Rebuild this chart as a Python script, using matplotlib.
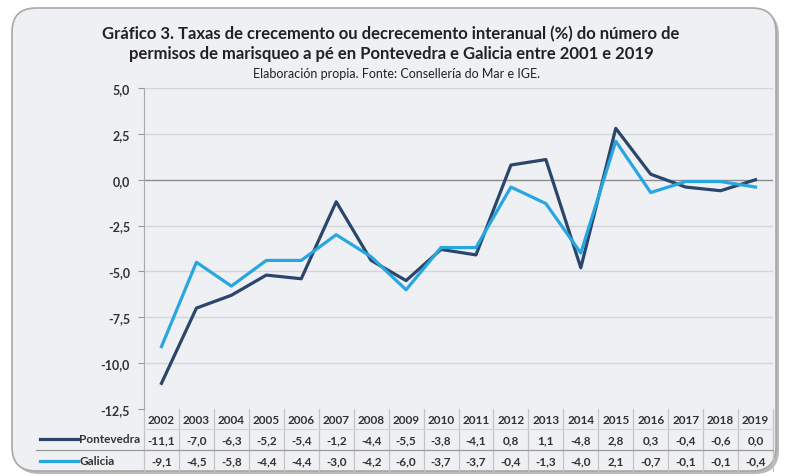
import matplotlib.pyplot as plt
from matplotlib.patches import FancyBboxPatch
import numpy as np

years = ["2002", "2003", "2004", "2005", "2006", "2007", "2008", "2009", "2010",
         "2011", "2012", "2013", "2014", "2015", "2016", "2017", "2018", "2019"]
pontevedra = [-11.1, -7.0, -6.3, -5.2, -5.4, -1.2, -4.4, -5.5, -3.8,
              -4.1, 0.8, 1.1, -4.8, 2.8, 0.3, -0.4, -0.6, 0.0]
galicia = [-9.1, -4.5, -5.8, -4.4, -4.4, -3.0, -4.2, -6.0, -3.7,
           -3.7, -0.4, -1.3, -4.0, 2.1, -0.7, -0.1, -0.1, -0.4]
yticks = [5.0, 2.5, 0.0, -2.5, -5.0, -7.5, -10.0, -12.5]

c_pont = "#2b466b"
c_gal = "#27a6df"
bg = "#eef0f4"
txt = "#333333"

plt.rcParams['font.family'] = ['Lato', 'DejaVu Sans']

W, H = 789, 477
fig = plt.figure(figsize=(W / 100, H / 100), dpi=100)
fig.patch.set_facecolor("white")

# background axes in pixel units for the rounded frame
bgax = fig.add_axes([0, 0, 1, 1], zorder=-1)
bgax.set_xlim(0, W)
bgax.set_ylim(H, 0)
bgax.axis("off")
bgax.add_patch(FancyBboxPatch((15, 12), 764, 463, boxstyle="round,pad=0,rounding_size=24",
                              facecolor="#9c9c9c", edgecolor="none", alpha=0.7))
bgax.add_patch(FancyBboxPatch((12, 9), 764, 463, boxstyle="round,pad=0,rounding_size=24",
                              facecolor=bg, edgecolor="#a8a8a8", linewidth=1.2))

left, right, top, bottom = 144, 773, 89, 410
ax = fig.add_axes([left / W, 1 - bottom / H, (right - left) / W, (bottom - top) / H])
ax.set_facecolor("none")

x = np.arange(len(years))
ax.plot(x, pontevedra, color=c_pont, lw=2.3, zorder=3)
ax.plot(x, galicia, color=c_gal, lw=2.3, zorder=3)

ax.set_xlim(-0.5, len(years) - 0.5)
ax.set_ylim(-12.5, 5.0)
ax.set_yticks(yticks)
ax.set_yticklabels([f"{v:.1f}".replace(".", ",") for v in yticks],
                   fontsize=9, fontweight="bold", color=txt)
ax.tick_params(axis="y", length=4, color="#999999", pad=6)
ax.set_xticks([])
for v in yticks:
    if v == 0:
        ax.axhline(v, color="#8c8c8c", lw=1.0, zorder=2)
    elif v != -12.5:
        ax.axhline(v, color="#d4d5d8", lw=1.0, zorder=1)
for s in ["top", "right", "bottom"]:
    ax.spines[s].set_visible(False)
ax.spines["left"].set_color("#aaaaaa")

# data table under the plot
tr = ax.get_xaxis_transform()
def ay(py):
    return (bottom - py) / (bottom - top)

for i, yr in enumerate(years):
    ax.text(i, ay(421), yr, transform=tr, ha="center", va="center",
            fontsize=8.5, fontweight="bold", color=txt, clip_on=False)
    ax.text(i, ay(441), f"{pontevedra[i]:.1f}".replace(".", ","), transform=tr,
            ha="center", va="center", fontsize=8.5, fontweight="bold", color=txt, clip_on=False)
    ax.text(i, ay(462), f"{galicia[i]:.1f}".replace(".", ","), transform=tr,
            ha="center", va="center", fontsize=8.5, fontweight="bold", color=txt, clip_on=False)

for i in range(len(years) + 1):
    ax.plot([i - 0.5, i - 0.5], [ay(410), ay(472)], transform=tr, color="#c4c4c4",
            lw=0.9, clip_on=False)
ax.plot([-0.5, len(years) - 0.5], [ay(430), ay(430)], transform=tr,
        color="#d4d4d4", lw=0.8, clip_on=False)

# row labels with legend keys
fig.add_artist(plt.Line2D([36 / W, right / W], [1 - 451 / H] * 2, color="#9a9a9a", lw=0.9))
fig.add_artist(plt.Line2D([40 / W, 78 / W], [1 - 440 / H] * 2, color=c_pont, lw=2.3))
fig.add_artist(plt.Line2D([40 / W, 78 / W], [1 - 462 / H] * 2, color=c_gal, lw=2.3))
fig.text(79 / W, 1 - 440 / H, "Pontevedra", ha="left", va="center", fontsize=8.5,
         fontweight="bold", color=txt)
fig.text(79 / W, 1 - 462 / H, "Galicia", ha="left", va="center", fontsize=8.5,
         fontweight="bold", color=txt)

fig.text(391 / W, 1 - 44 / H,
         "Gráfico 3. Taxas de crecemento ou decrecemento interanual (%) do número de\n"
         "permisos de marisqueo a pé en Pontevedra e Galicia entre 2001 e 2019",
         ha="center", va="center", fontsize=12, fontweight="bold", color="#222222",
         linespacing=1.25)
fig.text(397 / W, 1 - 74 / H, "Elaboración propia. Fonte: Consellería do Mar e IGE.",
         ha="center", va="center", fontsize=9, color="#222222")

fig.savefig("out.png", dpi=100)
